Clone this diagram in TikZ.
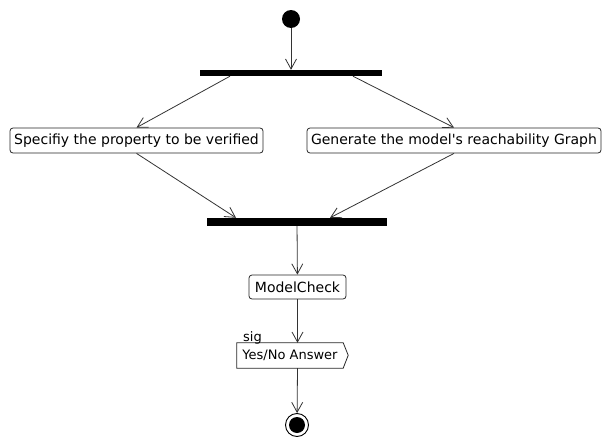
\documentclass[tikz,border=0pt]{standalone}
\usepackage{fontspec}
\setmainfont{DejaVu Sans}[Ligatures=TeXOff]
\usetikzlibrary{arrows.meta,calc}
\begin{document}
\begin{tikzpicture}[x=1pt,y=-1pt,
  flow/.style={draw=black!80, line width=0.8pt, -{Straight Barb[length=10pt,width=11pt,line width=0.8pt]}},
  bar/.style={fill=black, inner sep=0pt},
  act/.style={draw=black!85, line width=0.8pt, rounded corners=3pt, inner sep=0pt, font=\fontsize{14}{16}\selectfont},
  lbl/.style={font=\fontsize{13}{15}\selectfont, inner sep=0pt}]
\path[use as bounding box] (0,0) rectangle (603,439);
\node[circle, fill=black, inner sep=0pt, minimum size=18pt] (start) at (291,19) {};
\node[bar, minimum width=182pt, minimum height=6pt] (fork) at (291,73) {};
\node[act, minimum width=253pt, minimum height=25pt] (spec) at (136.5,140.5) {Specifiy the property to be verified};
\node[act, minimum width=294pt, minimum height=25pt] (gen) at (454,140.5) {Generate the model's reachability Graph};
\node[bar, minimum width=180pt, minimum height=8pt] (join) at (297,222) {};
\node[act, minimum width=97pt, minimum height=24pt] (mc) at (297.5,287) {ModelCheck};
\node[lbl, minimum width=106pt, minimum height=25pt] (sig) at (290,355.5) {Yes/No Answer};
\draw[draw=black!85, line width=0.8pt] (sig.north west) -- (sig.north east) -- ++(5,12.5) -- (sig.south east) -- (sig.south west) -- cycle;
\node[lbl, anchor=base west] (siglbl) at (243,341) {sig};
\node[circle, draw=black, line width=0.9pt, minimum size=23pt, inner sep=0pt] (end) at (297,425) {};
\node[circle, fill=black, minimum size=16pt, inner sep=0pt] (endin) at (end) {};
\draw[flow] (start) -- (fork);
\draw[flow] ([xshift=-61pt]fork.south) -- (spec.north);
\draw[flow] ([xshift=62pt]fork.south) -- (gen.north);
\draw[flow] (spec.south) -- ([xshift=-61pt]join.north);
\draw[flow] (gen.south) -- ([xshift=33pt]join.north);
\draw[flow] (join) -- (mc);
\draw[flow] (mc.south) -- (mc.south |- sig.north);
\draw[flow] (mc.south |- sig.south) -- (end);
\end{tikzpicture}
\end{document}
